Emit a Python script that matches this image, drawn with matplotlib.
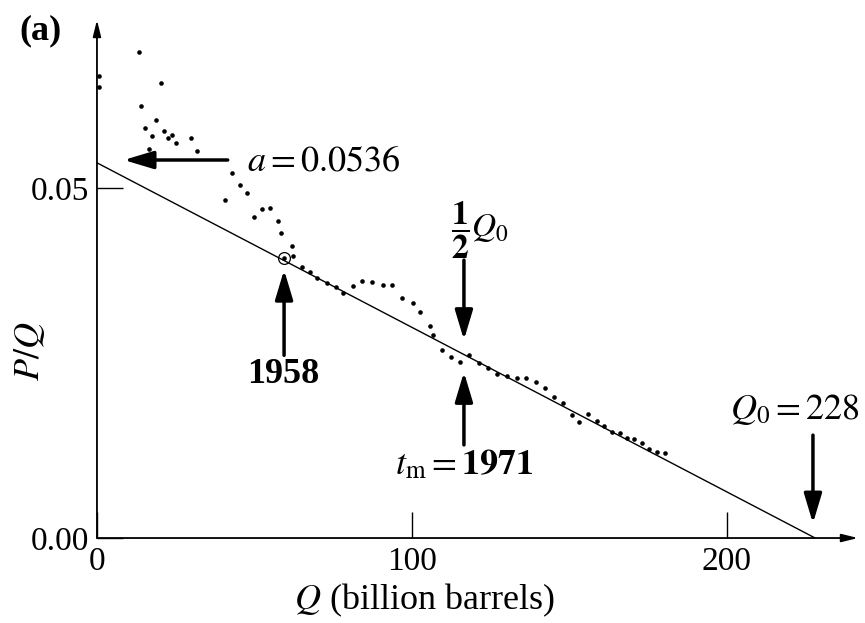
import matplotlib
matplotlib.use("Agg")
import matplotlib.pyplot as plt

plt.rcParams["font.family"] = ["Liberation Serif", "DejaVu Serif"]
plt.rcParams["mathtext.fontset"] = "stix"

# Hubbert linearisation data
q = [0.5, 0.5, 13.3, 14.0, 15.4, 16.5, 17.6, 18.7, 20.3, 21.3, 22.4, 23.7, 25.2,
     30.0, 31.6, 40.8, 43.0, 45.4, 47.7, 50.0, 52.5, 55.0, 57.6, 58.4, 59.4,
     61.8, 62.3, 65.0, 67.6, 70.0, 73.0, 75.9, 78.1, 81.2, 84.1, 87.3, 90.8,
     93.7, 96.8, 100.3, 102.5, 105.7, 106.7, 109.5, 112.4, 115.2, 118.1, 121.3,
     124.1, 127.0, 130.2, 133.3, 136.2, 139.4, 142.2, 145.1, 148.0, 150.8,
     153.0, 156.0, 158.7, 161.0, 163.5, 166.0, 168.3, 170.5, 173.0, 175.2,
     177.8, 180.3]
pq = [0.0660, 0.0645, 0.0694, 0.0617, 0.0586, 0.0556, 0.0574, 0.0597, 0.0650,
      0.0581, 0.0571, 0.0576, 0.0564, 0.0571, 0.0553, 0.0483, 0.0521, 0.0504,
      0.0493, 0.0459, 0.0470, 0.0471, 0.0453, 0.0436, 0.0400, 0.0417, 0.0403,
      0.0387, 0.0380, 0.0371, 0.0364, 0.0359, 0.0350, 0.0360, 0.0367, 0.0366,
      0.0361, 0.0361, 0.0343, 0.0336, 0.0323, 0.0303, 0.0290, 0.0269, 0.0259,
      0.0251, 0.0261, 0.0250, 0.0243, 0.0234, 0.0231, 0.0229, 0.0229, 0.0223,
      0.0214, 0.0201, 0.0193, 0.0176, 0.0166, 0.0177, 0.0167, 0.0160, 0.0151,
      0.0150, 0.0143, 0.0141, 0.0136, 0.0127, 0.0123, 0.0121]

a = 0.0536
Q0 = 228
line_q = [0, Q0]
line_pq = [a, 0.0]
q1958, pq1958 = 59.4, 0.0400
xticks = [0, 100, 200]
xticklabels = ["0", "100", "200"]
yticks = [0.0, 0.05]
yticklabels = ["0.00", "0.05"]

fig = plt.figure(figsize=(8.65, 6.23), dpi=100)
ax = fig.add_axes([0.1121, 0.1364, 0.8798, 0.8315])
ax.set_xlim(0, 241.6)
ax.set_ylim(0, 0.074)

for s in ax.spines.values():
    s.set_visible(False)

axis_arrow = dict(arrowstyle="-|>,head_length=0.65,head_width=0.16", lw=1.3,
                  color="k", mutation_scale=15, shrinkA=0, shrinkB=0)
ax.annotate("", xy=(1, 0), xytext=(0, 0), xycoords="axes fraction",
            arrowprops=axis_arrow, annotation_clip=False)
ax.annotate("", xy=(0, 1), xytext=(0, 0), xycoords="axes fraction",
            arrowprops=axis_arrow, annotation_clip=False)

ax.set_xticks(xticks, xticklabels)
ax.set_yticks(yticks, yticklabels)
ax.tick_params(direction="in", length=19, width=1.0, labelsize=24, pad=6)

ax.plot(line_q, line_pq, color="k", lw=1.0)
ax.plot(q, pq, "o", color="k", markersize=3.3, mew=0)
ax.plot([q1958], [pq1958], "o", mfc="none", mec="k", markersize=8.5, mew=0.9)

ax.set_xlabel(r"$Q$ (billion barrels)", fontsize=26, va="center")
ax.xaxis.set_label_coords(0.431, -0.12)
ax.set_ylabel(r"$P/Q$", fontsize=26, va="center")
ax.yaxis.set_label_coords(-0.088, 0.361)

fig.text(0.047, 0.95, "(a)", fontsize=26, fontweight="bold",
         ha="center", va="center")

big = dict(arrowstyle="-|>,head_length=0.9,head_width=0.27", lw=2.5,
           color="k", mutation_scale=20, shrinkA=0, shrinkB=0)

ax.annotate("", xy=(8.5, 0.054), xytext=(41.5, 0.054), arrowprops=big)
ax.text(47.6, 0.0537, r"$a = 0.0536$", fontsize=26, ha="left", va="center")

ax.annotate("", xy=(59.4, 0.0383), xytext=(59.4, 0.0261), arrowprops=big)
ax.text(59.0, 0.0234, "1958", fontsize=26, fontweight="bold",
        ha="center", va="center")

ax.text(121.5, 0.0439, r"$\dfrac{\mathbf{1}}{\mathbf{2}}Q_0$", fontsize=24,
        ha="center", va="center")
ax.annotate("", xy=(116.5, 0.0283), xytext=(116.5, 0.0397), arrowprops=big)

ax.annotate("", xy=(116.5, 0.0237), xytext=(116.5, 0.0133), arrowprops=big)
ax.text(116.5, 0.0104, r"$t_\mathrm{m}=\mathbf{1971}$", fontsize=26,
        ha="center", va="center")

ax.text(221.6, 0.0183, r"$Q_0 = 228$", fontsize=26, ha="center", va="center")
ax.annotate("", xy=(227.3, 0.0021), xytext=(227.3, 0.0147), arrowprops=big)

fig.savefig("out.png", dpi=100)
